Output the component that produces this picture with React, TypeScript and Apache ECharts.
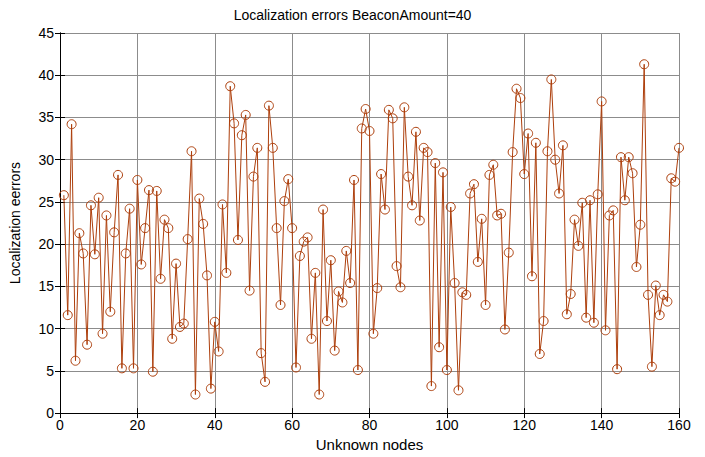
import React, { useEffect, useRef } from "react";
import * as echarts from "echarts";

const titleText = "Localization errors BeaconAmount=40";
const xName = "Unknown nodes";
const yName = "Localization eerrors";
const xTicks = { min: 0, max: 160, interval: 20 };
const yTicks = { min: 0, max: 45, interval: 5 };

const errors = [
  25.8, 11.6, 34.2, 6.2, 21.3, 18.9, 8.1, 24.6, 18.8, 25.5,
  9.4, 23.4, 12.0, 21.4, 28.2, 5.3, 18.9, 24.2, 5.3, 27.6,
  17.6, 21.9, 26.4, 4.9, 26.3, 15.9, 22.9, 21.9, 8.8, 17.7,
  10.2, 10.6, 20.6, 31.0, 2.2, 25.4, 22.4, 16.3, 2.9, 10.8,
  7.3, 24.7, 16.6, 38.7, 34.3, 20.5, 32.9, 35.3, 14.5, 28.0,
  31.4, 7.1, 3.7, 36.4, 31.4, 21.9, 12.8, 25.1, 27.7, 21.9,
  5.4, 18.6, 20.3, 20.8, 8.8, 16.6, 2.2, 24.1, 10.9, 18.1,
  7.4, 14.4, 13.1, 19.2, 15.4, 27.6, 5.1, 33.7, 36.0, 33.4,
  9.4, 14.8, 28.3, 24.1, 35.9, 34.9, 17.4, 14.9, 36.2, 28.0,
  24.6, 33.3, 22.8, 31.4, 30.9, 3.2, 29.6, 7.8, 28.5, 5.1,
  24.4, 15.4, 2.7, 14.3, 14.0, 26.0, 27.1, 17.9, 23.0, 12.8,
  28.2, 29.4, 23.4, 23.6, 9.9, 19.0, 30.9, 38.4, 37.3, 28.3,
  33.1, 16.2, 32.0, 7.0, 10.9, 31.0, 39.5, 30.0, 26.0, 31.7,
  11.7, 14.1, 22.9, 19.8, 24.9, 11.3, 25.2, 10.7, 25.9, 36.9,
  9.8, 23.4, 24.0, 5.2, 30.3, 25.2, 30.3, 28.4, 17.3, 22.3,
  41.3, 14.0, 5.5, 15.1, 11.6, 14.0, 13.2, 27.8, 27.4, 31.4,
];

const lineColor = "#ad3f0c";

export default function App() {
  const ref = useRef<HTMLDivElement>(null);
  useEffect(() => {
    if (!ref.current) return;
    const chart = echarts.init(ref.current, undefined, { renderer: "svg" });
    const font = "Liberation Sans, Arial, sans-serif";
    const data = errors.map((v, i) => [i + 1, v]);
    const frameAxis = {
      show: true,
      axisLine: { show: true, lineStyle: { color: "#000", width: 1 } },
      axisTick: { show: true, inside: true, length: 5, lineStyle: { color: "#000" } },
      axisLabel: { show: false },
      splitLine: { show: false },
    };
    chart.setOption({
      animation: false,
      backgroundColor: "#fff",
      title: {
        text: titleText,
        left: "center",
        top: 3,
        textStyle: { fontFamily: font, fontSize: 14, fontWeight: "normal", color: "#000" },
      },
      grid: { left: 58, right: 26, top: 33, bottom: 41, containLabel: false },
      xAxis: [
        {
          type: "value",
          min: xTicks.min,
          max: xTicks.max,
          interval: xTicks.interval,
          name: xName,
          nameLocation: "middle",
          nameGap: 21,
          nameTextStyle: { fontFamily: font, fontSize: 15, color: "#000", verticalAlign: "top" },
          axisLine: { show: true, lineStyle: { color: "#000", width: 1 } },
          axisTick: { show: true, inside: true, length: 5, lineStyle: { color: "#000" } },
          axisLabel: { fontFamily: font, fontSize: 14, color: "#000", margin: 5 },
          splitLine: { show: true, lineStyle: { color: "#8c8c8c", width: 1 } },
        },
        {
          type: "value",
          position: "top",
          min: xTicks.min,
          max: xTicks.max,
          interval: xTicks.interval,
          ...frameAxis,
        },
      ],
      yAxis: [
        {
          type: "value",
          min: yTicks.min,
          max: yTicks.max,
          interval: yTicks.interval,
          name: yName,
          nameLocation: "middle",
          nameGap: 38,
          nameTextStyle: { fontFamily: font, fontSize: 14, color: "#000" },
          axisLine: { show: true, lineStyle: { color: "#000", width: 1 } },
          axisTick: { show: true, inside: true, length: 5, lineStyle: { color: "#000" } },
          axisLabel: { fontFamily: font, fontSize: 14, color: "#000", margin: 6 },
          splitLine: { show: true, lineStyle: { color: "#8c8c8c", width: 1 } },
        },
        {
          type: "value",
          position: "right",
          min: yTicks.min,
          max: yTicks.max,
          interval: yTicks.interval,
          ...frameAxis,
        },
      ],
      series: [
        {
          type: "line",
          data,
          symbol: "circle",
          symbolSize: 9,
          lineStyle: { color: lineColor, width: 1 },
          itemStyle: { color: "rgba(0,0,0,0)", borderColor: lineColor, borderWidth: 1 },
          emphasis: { disabled: true },
        },
      ],
    });
    return () => chart.dispose();
  }, []);
  return (
    <div
      ref={ref}
      style={{ position: "fixed", left: 0, top: 0, width: 705, height: 457, background: "#fff" }}
    />
  );
}
